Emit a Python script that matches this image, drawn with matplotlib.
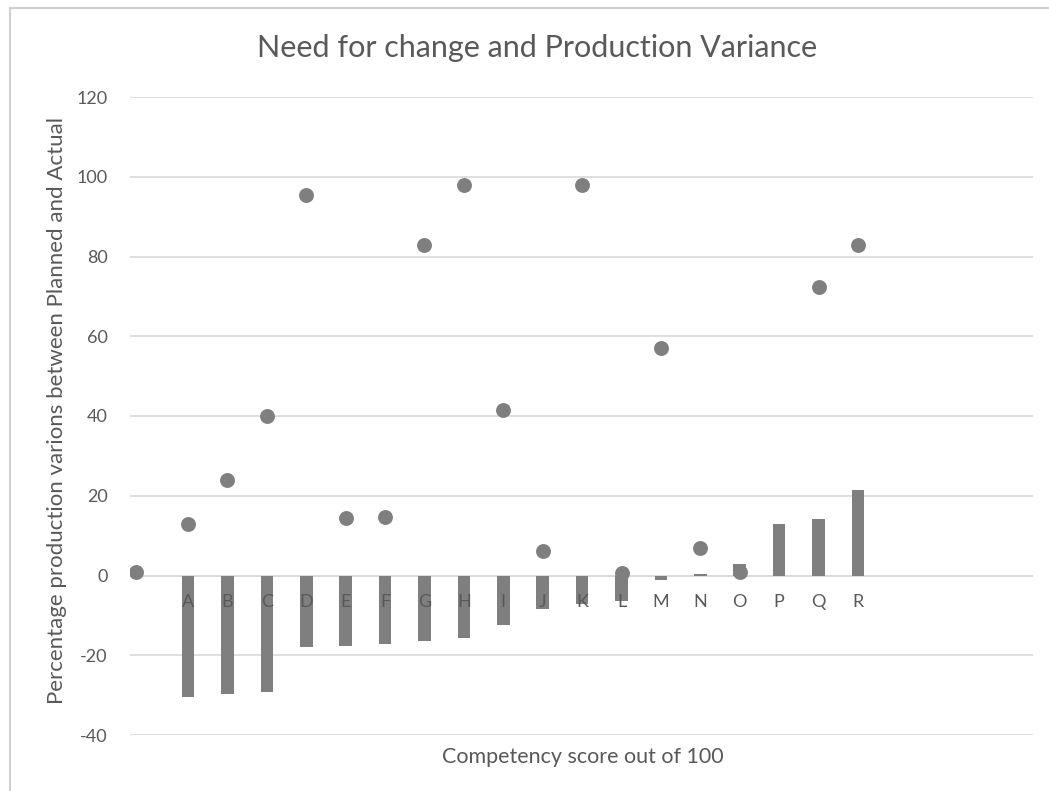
import matplotlib
matplotlib.use("Agg")
import matplotlib.pyplot as plt
from matplotlib.lines import Line2D

plt.rcParams['font.family'] = ['Lato', 'DejaVu Sans']

# ---- data ----
categories = ["A", "B", "C", "D", "E", "F", "G", "H", "I",
              "J", "K", "L", "M", "N", "O", "P", "Q", "R"]
variance = [-30.5, -29.7, -29.1, -18.0, -17.6, -17.1, -16.5, -15.7, -12.5,
            -8.5, -7.1, -6.3, -1.1, 0.3, 2.9, 13.0, 14.2, 21.5]
# scatter points (x in category-index units, y values)
dot_x = [-1.32, 0, 1, 2, 3, 4, 5, 6, 7, 8, 9, 10, 11, 12, 13, 14, 16, 17]
dot_y = [0.8, 13.0, 24.0, 40.0, 95.3, 14.4, 14.6, 82.8, 98.0, 41.4, 6.1,
         98.0, 0.6, 57.0, 6.9, 0.8, 72.3, 83.0]
yticks = [-40, -20, 0, 20, 40, 60, 80, 100, 120]

title = "Need for change and Production Variance"
xlabel = "Competency score out of 100"
ylabel = "Percentage production varions between Planned and Actual"

W, H = 1049, 791
fig = plt.figure(figsize=(W / 100, H / 100), dpi=100)
fig.patch.set_facecolor("white")

ax = fig.add_axes([130 / W, 1 - 735 / H, 903 / W, (735 - 97) / H])
ax.set_facecolor("white")

grey = "#7f7f7f"
textc = "#595959"
gridc = "#d9d9d9"

xs = list(range(len(categories)))
ax.bar(xs, variance, width=0.32, color=grey, zorder=3)
ax.scatter(dot_x, dot_y, s=115, color=grey, zorder=4, linewidths=0)

for x, lab in zip(xs, categories):
    ax.annotate(lab, xy=(x, 0), xytext=(0, -13), textcoords="offset points",
                ha="center", va="top", color=textc, fontsize=13, zorder=5)

ax.set_xlim(-1.472, 21.44)
ax.set_ylim(-40, 120)
ax.set_yticks(yticks)
ax.set_yticklabels([str(v) for v in yticks])
ax.set_xticks([])
ax.tick_params(axis="y", length=0, pad=16, labelsize=13, labelcolor=textc)
ax.grid(axis="y", color=gridc, linewidth=1.2, zorder=0)
ax.axhline(0, color=gridc, linewidth=1.2, zorder=0)
for s in ax.spines.values():
    s.set_visible(False)

fig.text(537 / W, 1 - 48 / H, title, ha="center", va="center",
         fontsize=22, color=textc)
fig.text(583 / W, 1 - 757 / H, xlabel, ha="center", va="center",
         fontsize=15.5, color=textc)
fig.text(57 / W, 1 - 410 / H, ylabel, rotation=90, ha="center", va="center",
         fontsize=16, color=textc)

# chart-area border (left & top)
fig.add_artist(Line2D([10 / W, 10 / W], [0, 1 - 8 / H], transform=fig.transFigure,
                      color="#d0d0d0", linewidth=1.5))
fig.add_artist(Line2D([10 / W, 1], [1 - 8 / H, 1 - 8 / H], transform=fig.transFigure,
                      color="#d0d0d0", linewidth=1.5))

fig.savefig("out.png", dpi=100, facecolor="white")
